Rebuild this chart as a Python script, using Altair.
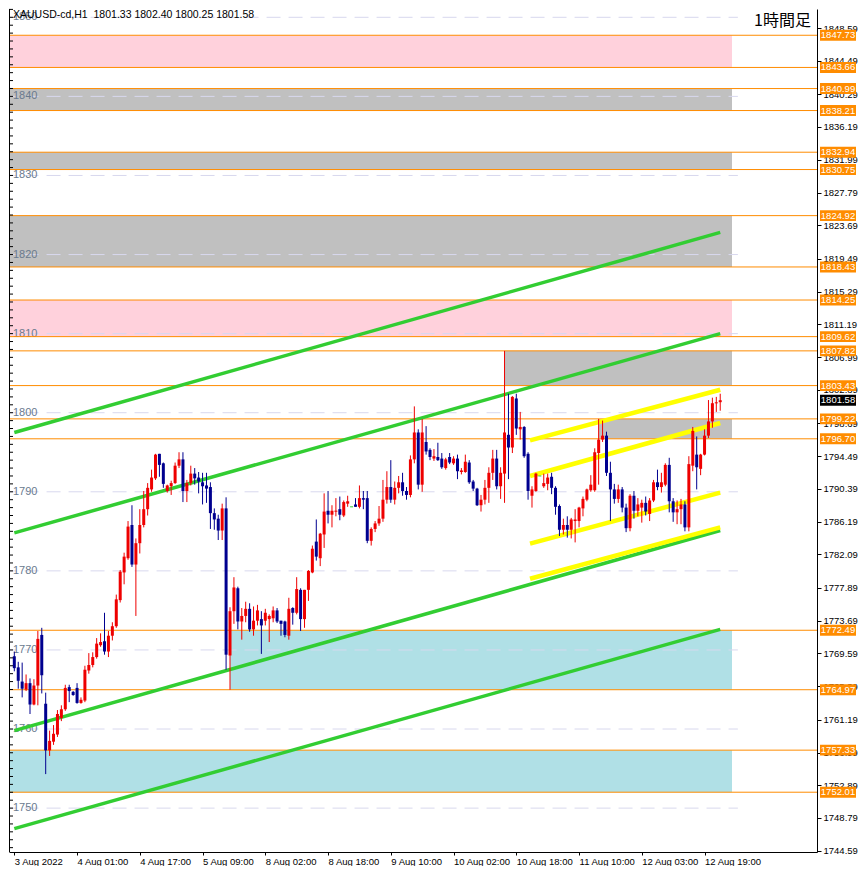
import json
import numpy as np
import pandas as pd
import altair as alt

# ---------------- data ----------------
opens = [
    1769.2, 1767.8, 1766.0, 1765.0, 1765.8, 1763.1, 1765.5, 1771.9, 1763.2, 1757.3,
    1758.4, 1759.3, 1761.4, 1762.5, 1765.3, 1764.7, 1765.2, 1763.3, 1763.6, 1767.4,
    1768.1, 1769.1, 1770.6, 1771.1, 1769.8, 1771.8, 1773.0, 1776.3, 1779.8, 1781.6,
    1785.8, 1780.8, 1783.5, 1785.8, 1787.8, 1790.3, 1791.7, 1794.8, 1793.6, 1790.1,
    1790.7, 1791.1, 1793.3, 1794.1, 1790.1, 1791.1, 1792.3, 1791.8, 1791.2, 1790.8,
    1790.6, 1787.3, 1786.6, 1785.1, 1787.9, 1769.3, 1774.9, 1777.8, 1773.6, 1774.3,
    1775.2, 1772.6, 1773.7, 1773.9, 1773.7, 1773.9, 1774.0, 1775.0, 1773.7, 1773.6,
    1771.8, 1775.3, 1774.7, 1777.6, 1773.9, 1777.6, 1779.8, 1783.7, 1781.6, 1784.6,
    1787.6, 1787.1, 1787.5, 1787.8, 1787.0, 1788.5, 1788.1, 1788.4, 1788.1, 1789.2,
    1789.2, 1783.8, 1785.3, 1786.0, 1786.6, 1789.0, 1790.6, 1789.0, 1790.5, 1791.2,
    1790.1, 1789.6, 1794.1, 1797.5, 1790.9, 1796.3, 1795.3, 1794.2, 1794.4, 1794.2,
    1793.0, 1794.4, 1793.6, 1794.2, 1792.5, 1792.5, 1793.7, 1791.3, 1790.4, 1788.3,
    1789.0, 1790.5, 1792.4, 1794.2, 1790.7, 1792.3, 1797.2, 1795.6, 1801.8, 1797.9,
    1798.2, 1794.8, 1789.5, 1790.1, 1792.0, 1790.7, 1791.0, 1791.9, 1790.5, 1788.2,
    1785.2, 1785.8, 1785.2, 1786.3, 1786.3, 1787.9, 1789.0, 1790.2, 1790.2, 1794.9,
    1796.6, 1797.1, 1792.4, 1790.3, 1789.1, 1790.3, 1788.0, 1785.4, 1789.5, 1787.6,
    1788.0, 1788.6, 1787.2, 1788.9, 1791.2, 1790.6, 1790.9, 1793.4, 1788.8, 1787.4,
    1787.8, 1788.4, 1785.5, 1793.3, 1794.7, 1792.9, 1794.7, 1797.1, 1798.9, 1801.2, 1801.33,
]
highs = [
    1769.8, 1768.5, 1768.4, 1766.9, 1766.4, 1766.3, 1772.4, 1772.8, 1764.6, 1759.8,
    1760.5, 1762.4, 1763.0, 1765.6, 1765.6, 1764.8, 1765.8, 1764.0, 1768.0, 1769.6,
    1769.7, 1771.5, 1772.1, 1774.7, 1772.4, 1773.5, 1777.0, 1780.1, 1782.3, 1786.3,
    1788.3, 1784.1, 1787.8, 1790.1, 1791.1, 1792.8, 1794.8, 1794.8, 1793.7, 1790.9,
    1791.4, 1793.7, 1795.0, 1795.0, 1791.5, 1793.3, 1793.0, 1792.5, 1792.4, 1792.4,
    1791.2, 1787.9, 1787.1, 1788.5, 1789.3, 1775.4, 1779.2, 1778.0, 1775.3, 1776.1,
    1775.9, 1775.5, 1775.7, 1774.9, 1775.2, 1774.5, 1775.5, 1775.3, 1773.7, 1773.7,
    1776.6, 1775.4, 1779.2, 1777.8, 1777.6, 1780.1, 1783.2, 1786.5, 1784.8, 1789.8,
    1790.1, 1788.3, 1789.2, 1789.4, 1788.9, 1789.5, 1788.1, 1789.2, 1790.8, 1790.1,
    1790.1, 1785.5, 1786.3, 1788.2, 1791.5, 1792.6, 1794.0, 1791.3, 1792.0, 1792.4,
    1790.6, 1794.6, 1800.8, 1797.9, 1799.2, 1798.3, 1795.5, 1795.4, 1796.2, 1794.9,
    1794.3, 1794.9, 1794.5, 1794.7, 1793.0, 1794.7, 1794.0, 1791.5, 1790.5, 1789.6,
    1791.5, 1793.1, 1795.3, 1795.3, 1793.1, 1807.82, 1802.4, 1802.1, 1802.4, 1800.1,
    1798.3, 1795.0, 1790.7, 1792.4, 1792.0, 1792.3, 1792.3, 1792.4, 1790.7, 1788.4,
    1786.6, 1786.9, 1786.7, 1787.8, 1788.1, 1789.4, 1790.4, 1792.1, 1795.5, 1799.22,
    1799.0, 1797.6, 1793.8, 1791.0, 1790.9, 1790.6, 1788.5, 1789.7, 1790.1, 1789.2,
    1789.0, 1789.4, 1789.2, 1791.5, 1792.8, 1792.4, 1793.6, 1794.3, 1789.2, 1788.9,
    1789.1, 1788.8, 1794.5, 1798.2, 1797.0, 1794.8, 1797.9, 1801.6, 1801.9, 1802.0, 1802.40,
]
lows = [
    1767.3, 1765.1, 1764.0, 1764.8, 1761.9, 1763.0, 1763.0, 1764.5, 1754.3, 1756.6,
    1758.0, 1759.0, 1761.0, 1762.3, 1763.4, 1764.2, 1763.2, 1763.2, 1763.4, 1767.0,
    1767.8, 1768.9, 1770.4, 1769.4, 1769.1, 1771.2, 1772.8, 1776.0, 1778.3, 1781.4,
    1780.5, 1774.3, 1782.2, 1785.5, 1787.0, 1790.0, 1791.5, 1791.9, 1790.5, 1789.9,
    1789.6, 1791.0, 1793.0, 1788.7, 1788.7, 1790.8, 1790.9, 1789.8, 1788.4, 1788.6,
    1785.3, 1785.2, 1783.9, 1783.9, 1767.5, 1764.97, 1773.3, 1772.6, 1771.3, 1773.5,
    1772.3, 1771.8, 1773.1, 1769.5, 1773.1, 1771.0, 1773.5, 1773.4, 1771.8, 1771.6,
    1771.3, 1773.2, 1774.5, 1772.4, 1772.8, 1776.2, 1779.7, 1781.3, 1780.6, 1782.9,
    1786.0, 1785.5, 1786.9, 1786.4, 1786.8, 1788.1, 1788.1, 1788.1, 1787.9, 1787.8,
    1783.5, 1783.2, 1784.9, 1785.7, 1786.2, 1788.5, 1788.6, 1788.4, 1789.8, 1789.5,
    1789.0, 1789.3, 1793.6, 1790.3, 1790.0, 1794.7, 1794.0, 1793.9, 1793.9, 1792.9,
    1792.8, 1793.5, 1793.4, 1791.6, 1792.2, 1792.4, 1791.0, 1790.1, 1788.2, 1787.5,
    1788.4, 1788.6, 1791.5, 1790.3, 1789.1, 1788.6, 1791.6, 1794.9, 1797.2, 1796.6,
    1794.3, 1789.0, 1788.0, 1790.0, 1792.0, 1790.5, 1790.2, 1789.7, 1787.1, 1784.4,
    1784.6, 1784.2, 1784.1, 1783.6, 1785.5, 1786.9, 1788.8, 1790.0, 1790.0, 1790.9,
    1796.3, 1792.0, 1786.3, 1788.5, 1788.6, 1787.4, 1784.9, 1785.0, 1786.6, 1786.9,
    1786.1, 1787.0, 1786.3, 1788.7, 1790.2, 1789.9, 1790.7, 1787.4, 1786.2, 1785.9,
    1785.9, 1785.0, 1785.0, 1792.6, 1790.3, 1792.1, 1794.6, 1796.8, 1798.1, 1800.1, 1800.25,
]
closes = [
    1767.7, 1766.1, 1765.1, 1765.8, 1763.1, 1765.5, 1771.4, 1766.8, 1757.3, 1758.5,
    1759.4, 1761.9, 1762.5, 1765.2, 1764.8, 1764.3, 1763.3, 1763.7, 1767.5, 1768.1,
    1769.1, 1770.8, 1771.0, 1769.8, 1771.8, 1773.0, 1776.4, 1779.9, 1781.8, 1785.6,
    1780.8, 1783.5, 1785.8, 1787.8, 1790.5, 1791.8, 1794.7, 1793.4, 1791.0, 1790.8,
    1791.1, 1793.3, 1794.1, 1790.1, 1791.1, 1792.3, 1791.7, 1791.3, 1790.7, 1790.4,
    1787.3, 1786.5, 1785.1, 1787.9, 1769.4, 1774.9, 1777.9, 1773.6, 1774.3, 1775.2,
    1772.6, 1773.7, 1775.0, 1773.1, 1774.7, 1774.3, 1775.0, 1773.6, 1773.3, 1771.9,
    1775.2, 1774.7, 1777.7, 1773.9, 1777.6, 1780.0, 1782.8, 1781.8, 1784.7, 1787.5,
    1787.1, 1787.6, 1787.6, 1787.1, 1788.7, 1788.8, 1788.1, 1788.1, 1789.2, 1789.0,
    1783.8, 1785.3, 1786.0, 1786.6, 1789.0, 1790.6, 1789.0, 1790.5, 1791.2, 1790.1,
    1789.6, 1794.1, 1797.5, 1790.9, 1797.5, 1795.1, 1794.4, 1794.5, 1794.0, 1793.1,
    1794.1, 1793.7, 1794.2, 1792.6, 1792.7, 1793.8, 1791.2, 1790.4, 1788.3, 1789.0,
    1790.5, 1792.4, 1794.2, 1790.7, 1792.4, 1797.5, 1795.6, 1802.0, 1798.0, 1798.2,
    1794.5, 1790.1, 1790.3, 1792.3, 1792.0, 1791.1, 1791.8, 1790.5, 1788.1, 1785.2,
    1785.8, 1785.2, 1786.5, 1786.5, 1788.0, 1789.1, 1790.3, 1790.9, 1795.0, 1796.6,
    1797.1, 1792.4, 1790.3, 1789.1, 1790.3, 1788.0, 1785.4, 1789.5, 1787.6, 1788.4,
    1788.6, 1787.5, 1788.9, 1791.2, 1790.6, 1791.2, 1793.4, 1788.8, 1787.4, 1787.8,
    1788.4, 1785.5, 1793.5, 1797.7, 1793.1, 1794.7, 1797.1, 1798.9, 1801.2, 1801.3, 1801.58,
]

# zones (rectangles)
zone_low = [1843.66, 1838.21, 1830.75, 1818.43, 1809.62, 1803.43, 1796.70, 1764.97, 1752.01]
zone_high = [1847.73, 1840.99, 1832.94, 1824.92, 1814.25, 1807.82, 1799.22, 1772.49, 1757.33]
zone_start_bar = [-3, -3, -3, -3, -3, 125, 149, 55, -3]
zone_end_bar = [183, 183, 183, 183, 183, 183, 183, 183, 183]
zone_kind = ["pink", "gray", "gray", "gray", "pink", "gray", "gray", "blue", "blue"]

# horizontal levels
levels = [1847.73, 1843.66, 1840.99, 1838.21, 1832.94, 1830.75, 1824.92, 1818.43, 1814.25,
          1809.62, 1807.82, 1803.43, 1799.22, 1796.70, 1772.49, 1764.97, 1757.33, 1752.01]
last_price = 1801.58

# channel lines
green_start_bar = [0, 0, 0, 0]
green_end_bar = [180, 180, 180, 180]
green_start_price = [1797.5, 1784.8, 1759.8, 1747.4]
green_end_price = [1822.8, 1810.0, 1785.1, 1772.6]

yellow_start_bar = [131.5, 131.5, 131.5, 131.5]
yellow_end_bar = [180, 180, 180, 180]
yellow_start_price = [1796.5, 1792.0, 1783.45, 1779.0]
yellow_end_price = [1802.9, 1798.7, 1789.9, 1785.5]

grid_levels = [1750, 1760, 1770, 1780, 1790, 1800, 1810, 1820, 1830, 1840, 1850]
right_ticks = [1848.59, 1844.49, 1840.29, 1836.19, 1831.99, 1827.79, 1823.69, 1819.49,
               1815.29, 1811.19, 1806.99, 1802.89, 1798.69, 1794.49, 1790.39, 1786.19,
               1782.09, 1777.89, 1773.69, 1769.59, 1765.39, 1761.19, 1756.99, 1752.89,
               1748.79, 1744.59]
time_label_bars = [0, 16, 32, 48, 64, 80, 96, 112, 128, 144, 160, 176]
time_labels = ["3 Aug 2022", "4 Aug 01:00", "4 Aug 17:00", "5 Aug 09:00", "8 Aug 02:00",
               "8 Aug 18:00", "9 Aug 10:00", "10 Aug 02:00", "10 Aug 18:00",
               "11 Aug 10:00", "12 Aug 03:00", "12 Aug 19:00"]
header_text = "XAUUSD-cd,H1\u00a0\u00a01801.33 1802.40 1800.25 1801.58"
period_text = "1時間足"

# ---------------- styling ----------------
W, H = 808, 843
FONT = "Liberation Sans"
UP, DOWN, DOJI = "#EE0000", "#00008F", "#32CD32"
ZONE_COL = {"pink": "#FFD1DC", "gray": "#C0C0C0", "blue": "#B0E0E6"}
ORANGE = "#FF8C00"
BOX_X0, BOX_X1, BOX_XC = 811, 847, 829

xscale = alt.Scale(domain=[-0.08, 203.4], nice=False, zero=False)
yscale = alt.Scale(domain=[1744.45, 1851.05], nice=False, zero=False)
xaxis = alt.Axis(values=time_label_bars,
                 labelExpr=json.dumps(time_labels) + "[round(datum.value/16)]",
                 title=None, grid=False, tickSize=3, tickColor="black", domainColor="black",
                 labelColor="black", labelFont=FONT, labelFontSize=9.5, labelAlign="left",
                 labelPadding=1, labelFlush=False, labelOverlap=False, labelBound=False)
yaxis = alt.Axis(orient="right", values=right_ticks, format=".2f", title=None, grid=False,
                 tickSize=4, tickColor="black", domainColor="black", labelColor="black",
                 labelFont=FONT, labelFontSize=9.5, labelPadding=2, labelOverlap=False,
                 labelBound=False, labelFlush=False)


def xq(f):
    return alt.X(f + ":Q", scale=xscale, axis=xaxis)


def yq(f):
    return alt.Y(f + ":Q", scale=yscale, axis=yaxis)


# ---------------- tables ----------------
o = np.array(opens); h = np.array(highs); l = np.array(lows); c = np.array(closes)
cdf = pd.DataFrame({"bar": np.arange(len(o)), "open": o, "close": c})
cdf["high"] = np.maximum(h, np.maximum(o, c))
cdf["low"] = np.minimum(l, np.minimum(o, c))
cdf["col"] = np.where(c > o, UP, np.where(c < o, DOWN, DOJI))
top = np.maximum(o, c); bot = np.minimum(o, c)
thin = (top - bot) < 0.13
mid = (top + bot) / 2
cdf["btop"] = np.where(thin, mid + 0.065, top)
cdf["bbot"] = np.where(thin, mid - 0.065, bot)

zdf = pd.DataFrame({"x0": zone_start_bar, "x1": zone_end_bar, "lo": zone_low,
                    "hi": zone_high, "kind": zone_kind})
zdf["col"] = zdf["kind"].map(ZONE_COL)

gdf = pd.DataFrame({"level": grid_levels})
gdf["x0"] = -3
gdf["x1"] = 184.5

ldf = pd.DataFrame({"level": levels})
ldf["lo"] = ldf["level"] - 0.69
ldf["hi"] = ldf["level"] + 0.69

pdf = pd.DataFrame({"level": [last_price]})
pdf["lo"] = pdf["level"] - 0.69
pdf["hi"] = pdf["level"] + 0.69


def seg_df(sb, eb, sp, ep):
    rows = []
    for i in range(len(sb)):
        rows.append({"line": i, "bar": sb[i], "price": sp[i]})
        rows.append({"line": i, "bar": eb[i], "price": ep[i]})
    return pd.DataFrame(rows)


green_df = seg_df(green_start_bar, green_end_bar, green_start_price, green_end_price)
yellow_df = seg_df(yellow_start_bar, yellow_end_bar, yellow_start_price, yellow_end_price)

tick_df = pd.DataFrame({"v": list(range(1745, 1852))})
one = pd.DataFrame({"a": [0]})

# ---------------- layers ----------------
zones = alt.Chart(zdf).mark_rect(clip=True).encode(
    x=xq("x0"), x2="x1", y=yq("lo"), y2="hi", color=alt.Color("col:N", scale=None))

grid = alt.Chart(gdf).mark_rule(clip=True, strokeDash=[14, 8], color="#D8D8EE", strokeWidth=1).encode(
    x=xq("x0"), x2="x1", y=yq("level"))

grid_labels = alt.Chart(gdf).mark_text(align="left", baseline="middle", font=FONT, fontSize=11,
                                       color="#6A7A8E").encode(
    x=alt.value(4), y=yq("level"), text=alt.Text("level:Q", format="d"))

level_lines = alt.Chart(ldf).mark_rule(color=ORANGE, strokeWidth=1).encode(y=yq("level"))

green = alt.Chart(green_df).mark_line(clip=True, color="#32CD32", strokeWidth=3.5).encode(
    x=xq("bar"), y=yq("price"), detail="line:N")

yellow = alt.Chart(yellow_df).mark_line(clip=True, color="#FFFF00", strokeWidth=4.5).encode(
    x=xq("bar"), y=yq("price"), detail="line:N")

wicks = alt.Chart(cdf).mark_rule(clip=True, strokeWidth=1).encode(
    x=xq("bar"), y=yq("low"), y2="high", color=alt.Color("col:N", scale=None))

bodies = alt.Chart(cdf).mark_bar(clip=True, size=3).encode(
    x=xq("bar"), y=yq("btop"), y2="bbot", color=alt.Color("col:N", scale=None))

left_ticks = alt.Chart(tick_df).mark_rule(color="black").encode(
    x=alt.value(0), x2=alt.value(4), y=yq("v"))

left_line = alt.Chart(one).mark_rule(color="black").encode(
    x=alt.value(0.5), y=alt.value(0), y2=alt.value(H))

level_boxes = alt.Chart(ldf).mark_rect(color=ORANGE).encode(
    x=alt.value(BOX_X0), x2=alt.value(BOX_X1), y=yq("lo"), y2="hi")
level_text = alt.Chart(ldf).mark_text(color="white", font=FONT, fontSize=9.5, align="center",
                                      baseline="middle").encode(
    x=alt.value(BOX_XC), y=yq("level"), text=alt.Text("level:Q", format=".2f"))

price_box = alt.Chart(pdf).mark_rect(color="black").encode(
    x=alt.value(BOX_X0), x2=alt.value(BOX_X1), y=yq("lo"), y2="hi")
price_text = alt.Chart(pdf).mark_text(color="white", font=FONT, fontSize=9.5, align="center",
                                      baseline="middle").encode(
    x=alt.value(BOX_XC), y=yq("level"), text=alt.Text("level:Q", format=".2f"))

header = alt.Chart(one).mark_text(align="left", baseline="alphabetic", font=FONT, fontSize=10.5,
                                  color="black").encode(
    x=alt.value(4), y=alt.value(9), text=alt.value(header_text))

period = alt.Chart(one).mark_text(align="right", baseline="middle", font="Noto Sans CJK JP",
                                  fontSize=16, color="black").encode(
    x=alt.value(802), y=alt.value(12), text=alt.value(period_text))

chart = alt.layer(
    zones, grid, grid_labels, level_lines, green, yellow, wicks, bodies,
    left_ticks, left_line, level_boxes, level_text, price_box, price_text, header, period,
).properties(
    width=W, height=H, padding={"left": 0, "top": 0, "right": 0, "bottom": 0},
    background="white",
).configure_view(stroke=None)

chart.save("out.html", embed_options={"renderer": "svg", "actions": False})
